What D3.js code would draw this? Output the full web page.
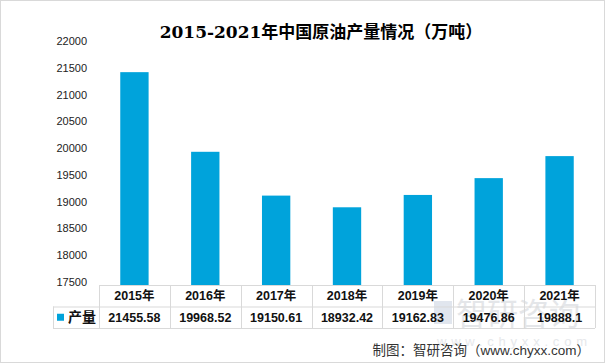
<!DOCTYPE html>
<html>
<head>
<meta charset="utf-8">
<script src="https://cdn.jsdelivr.net/npm/d3@7"></script>
<style>
  body { margin: 0; background: #fff; }
  svg text { font-family: "Liberation Sans", "Noto Sans CJK SC", sans-serif; }
</style>
</head>
<body>
<div id="chart"></div>
<script>
// data
const years = ["2015年", "2016年", "2017年", "2018年", "2019年", "2020年", "2021年"];
const output = [21455.58, 19968.52, 19150.61, 18932.42, 19162.83, 19476.86, 19888.1];
const outputLabels = ["21455.58", "19968.52", "19150.61", "18932.42", "19162.83", "19476.86", "19888.1"];
const yTicks = [17500, 18000, 18500, 19000, 19500, 20000, 20500, 21000, 21500, 22000];
const seriesName = "产量";

const width = 605, height = 363;
const plot = { left: 99, right: 595, top: 43, bottom: 284 };
const table = { left: 53, top: 285, rowH: 21.5 };
const barColor = "#00A3DB";
const lineColor = "#d9d9d9";

const svg = d3.select("#chart").append("svg")
    .attr("width", width)
    .attr("height", height);

// outer frame
svg.append("rect")
    .attr("x", 0.5).attr("y", 0.5)
    .attr("width", width - 1).attr("height", height - 1)
    .attr("fill", "#fff")
    .attr("stroke", lineColor);

// title
svg.append("text")
    .attr("x", 321).attr("y", 38)
    .attr("text-anchor", "middle")
    .style("font-family", "'DejaVu Serif', 'Noto Sans CJK SC', serif")
    .style("font-size", "17px")
    .style("font-weight", "bold")
    .attr("fill", "#000")
    .text("2015-2021年中国原油产量情况（万吨）");

let x = d3.scaleBand()
    .domain(years)
    .range([plot.left, plot.right])
    .paddingInner(0.6)
    .paddingOuter(0.3);

let y = d3.scaleLinear()
    .domain([17500, 22000])
    .range([plot.bottom, plot.top]);

// y axis labels (no line, no ticks)
let yAxis = d3.axisLeft(y).tickValues(yTicks).tickSize(0).tickPadding(0).tickFormat(d3.format("d"));
let yg = svg.append("g")
    .attr("transform", `translate(87, -2)`)
    .call(yAxis);
yg.select(".domain").remove();
yg.selectAll("text")
    .style("font-size", "11px")
    .attr("fill", "#222");

// watermark
let wm = svg.append("g").style("pointer-events", "none");
wm.append("rect").attr("x", 434).attr("y", 301).attr("width", 18).attr("height", 23).attr("fill", "#e1e6ee");
wm.append("text")
    .attr("x", 456).attr("y", 325)
    .style("font-size", "31px")
    .attr("fill", "#e4e6e9")
    .text("智研咨询");
wm.append("text")
    .attr("x", 437).attr("y", 346)
    .style("font-size", "13px")
    .attr("textLength", 150)
    .attr("lengthAdjust", "spacing")
    .attr("fill", "#e6e8eb")
    .text("www.chyxx.com");

// bars
svg.selectAll("rect.bar")
    .data(output)
    .join("rect")
    .classed("bar", true)
    .attr("x", (d, i) => x(years[i]))
    .attr("width", x.bandwidth())
    .attr("y", d => y(d))
    .attr("height", d => table.top - y(d))
    .attr("fill", barColor);

// data table
let tg = svg.append("g");
let tBottom = table.top + table.rowH * 2;
// horizontal lines
tg.append("line").attr("x1", plot.left).attr("x2", plot.right)
    .attr("y1", table.top + 0.5).attr("y2", table.top + 0.5).attr("stroke", lineColor);
tg.append("line").attr("x1", table.left).attr("x2", plot.right)
    .attr("y1", table.top + table.rowH + 0.5).attr("y2", table.top + table.rowH + 0.5).attr("stroke", lineColor);
tg.append("line").attr("x1", table.left).attr("x2", plot.right)
    .attr("y1", tBottom + 0.5).attr("y2", tBottom + 0.5).attr("stroke", lineColor);
// vertical lines
let colEdges = d3.range(years.length + 1).map(i => plot.left + i * (plot.right - plot.left) / years.length);
tg.selectAll("line.v")
    .data(colEdges)
    .join("line")
    .classed("v", true)
    .attr("x1", d => Math.round(d) + 0.5).attr("x2", d => Math.round(d) + 0.5)
    .attr("y1", table.top).attr("y2", tBottom)
    .attr("stroke", lineColor);
tg.append("line").attr("x1", table.left + 0.5).attr("x2", table.left + 0.5)
    .attr("y1", table.top + table.rowH).attr("y2", tBottom).attr("stroke", lineColor);

// header row
tg.selectAll("text.cat")
    .data(years)
    .join("text")
    .classed("cat", true)
    .attr("x", d => x(d) + x.bandwidth() / 2)
    .attr("y", table.top + table.rowH / 2 + 4.5)
    .attr("text-anchor", "middle")
    .style("font-size", "12.5px")
    .style("font-weight", "bold")
    .attr("fill", "#111")
    .text(d => d);

// values row
tg.selectAll("text.val")
    .data(outputLabels)
    .join("text")
    .classed("val", true)
    .attr("x", (d, i) => x(years[i]) + x.bandwidth() / 2)
    .attr("y", table.top + table.rowH * 1.5 + 4.5)
    .attr("text-anchor", "middle")
    .style("font-size", "12.5px")
    .style("font-weight", "bold")
    .attr("fill", "#111")
    .text(d => d);

// legend key
tg.append("rect")
    .attr("x", 57).attr("y", table.top + table.rowH * 1.5 - 3.5)
    .attr("width", 7).attr("height", 7)
    .attr("fill", barColor);
tg.append("text")
    .attr("x", 68).attr("y", table.top + table.rowH * 1.5 + 5)
    .style("font-size", "14px")
    .style("font-weight", "bold")
    .attr("fill", "#111")
    .text(seriesName);

// source
svg.append("text")
    .attr("x", 590).attr("y", 355)
    .attr("text-anchor", "end")
    .style("font-size", "13.5px")
    .attr("fill", "#333")
    .text("制图：智研咨询（www.chyxx.com）");
</script>
</body>
</html>
